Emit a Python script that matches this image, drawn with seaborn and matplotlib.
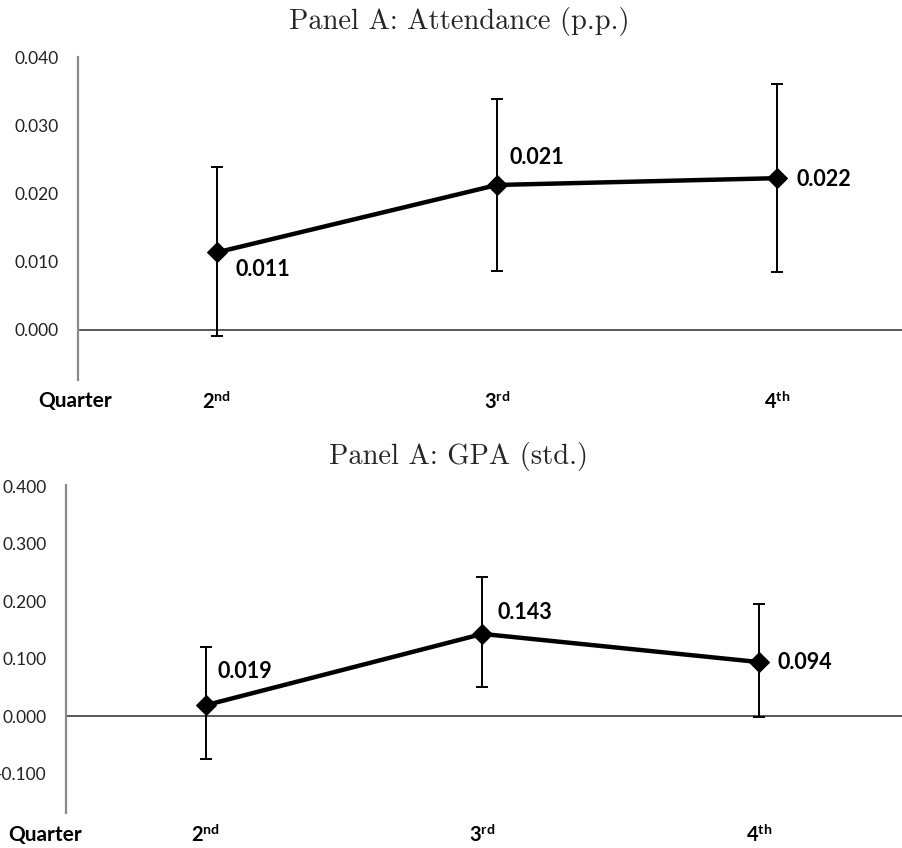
import matplotlib
matplotlib.use("Agg")
import matplotlib.pyplot as plt
import seaborn as sns
import numpy as np

# ---------------- data ----------------
quarters = ["2$^{\\mathbf{nd}}$", "3$^{\\mathbf{rd}}$", "4$^{\\mathbf{th}}$"]
axis_name = "Quarter"

att_title = "Panel A: Attendance (p.p.)"
att_values = [0.0114, 0.0213, 0.0223]
att_lower = [-0.0009, 0.0087, 0.0085]
att_upper = [0.0239, 0.0340, 0.0362]
att_yticks = [0.000, 0.010, 0.020, 0.030, 0.040]

gpa_title = "Panel A: GPA (std.)"
gpa_values = [0.019, 0.143, 0.094]
gpa_lower = [-0.0754, 0.050, -0.001]
gpa_upper = [0.1196, 0.2427, 0.1946]
gpa_yticks = [-0.100, 0.000, 0.100, 0.200, 0.300, 0.400]

# ---------------- style ----------------
sns.set_theme(style="white")
plt.rcParams["font.family"] = ["Lato", "DejaVu Sans"]
plt.rcParams["mathtext.fontset"] = "custom"
plt.rcParams["mathtext.rm"] = "Lato"
plt.rcParams["mathtext.bf"] = "Lato:bold"
plt.rcParams["mathtext.it"] = "Lato:italic"

W, H = 903, 848
fig = plt.figure(figsize=(W / 100, H / 100), dpi=100)
fig.patch.set_facecolor("white")


def fx(px):
    return px / W


def fy(py):
    return 1 - py / H


def panel(rect, values, lower, upper, yticks, ylim, xlim, offsets, title, title_y, quarter_x, quarter_y):
    ax = fig.add_axes(rect)
    pos = np.arange(len(values))
    sns.lineplot(x=pos, y=values, ax=ax, color="black", linewidth=3.2,
                 marker="D", markersize=10, markeredgecolor="black", zorder=4)
    v = np.array(values)
    yerr = np.vstack([v - np.array(lower), np.array(upper) - v])
    ax.errorbar(pos, v, yerr=yerr, fmt="none", ecolor="black",
                elinewidth=1.4, capsize=4, capthick=1.4, zorder=3)
    ax.axhline(0, color="#4a4a4a", linewidth=1.3, zorder=2)
    ax.set_xlim(*xlim)
    ax.set_ylim(*ylim)
    ax.set_yticks(yticks)
    ax.set_yticklabels([f"{t:.3f}" for t in yticks], fontsize=12.5, color="#222222")
    ax.set_xticks(pos)
    ax.set_xticklabels(quarters, fontsize=14.5, fontweight="bold", color="black")
    ax.tick_params(axis="y", length=0, pad=14)
    ax.tick_params(axis="x", length=0, pad=8)
    for s in ["top", "right", "bottom"]:
        ax.spines[s].set_visible(False)
    ax.spines["left"].set_color("#8a8a8a")
    ax.spines["left"].set_linewidth(1.6)
    for i, (val, off) in enumerate(zip(values, offsets)):
        ax.annotate(f"{val:.3f}", xy=(i, val), xytext=off, textcoords="offset pixels",
                    ha="left", va="center", fontsize=15.5, fontweight="bold", color="black")
    ax.set_xlabel("")
    ax.set_ylabel("")
    fig.text(fx(459), fy(title_y), title, ha="center", va="center",
             fontsize=20.5, family="cmr10")
    fig.text(fx(quarter_x), fy(quarter_y), axis_name, ha="center", va="center",
             fontsize=15, fontweight="bold", color="black")
    return ax


# top panel: axes from x=78..903 px, y=57..380 px
panel([fx(78), fy(380), fx(903 - 78), (380 - 57) / H],
      att_values, att_lower, att_upper, att_yticks,
      ylim=(-0.00735, 0.0401), xlim=(-0.496, 2.45),
      offsets=[(19, -17), (13, 27), (20, -1)],
      title=att_title, title_y=21, quarter_x=75, quarter_y=401)

# bottom panel: axes from x=66..903 px, y=485..813 px
panel([fx(66), fy(813), fx(903 - 66), (813 - 485) / H],
      gpa_values, gpa_lower, gpa_upper, gpa_yticks,
      ylim=(-0.1685, 0.402), xlim=(-0.505, 2.52),
      offsets=[(12, 34), (15, 21), (18, 0)],
      title=gpa_title, title_y=457, quarter_x=45, quarter_y=835)

fig.savefig("out.png", dpi=100, facecolor="white")
